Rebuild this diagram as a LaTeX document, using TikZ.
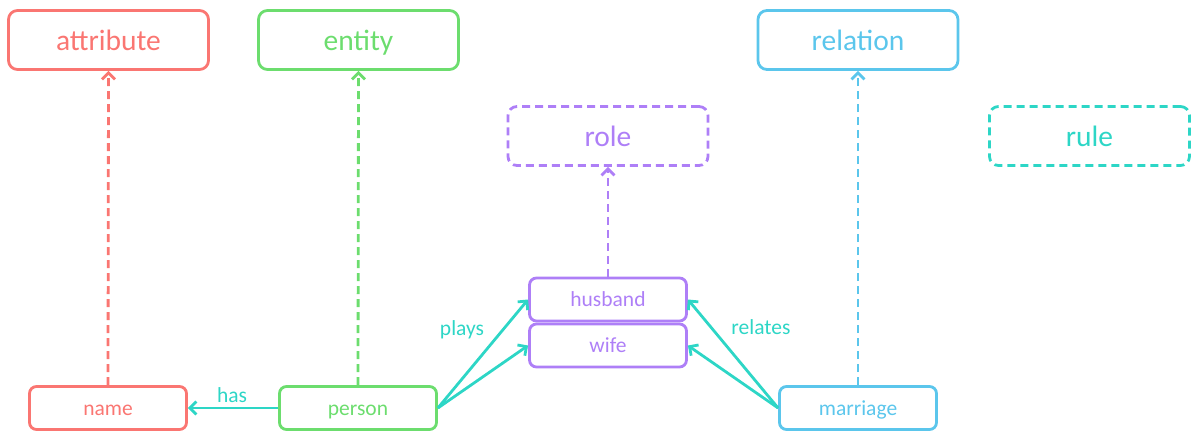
\documentclass[tikz,border=0pt]{standalone}
\usepackage{fontspec}
\setmainfont{Carlito}
\usetikzlibrary{arrows.meta}
\definecolor{cred}{HTML}{FA7672}
\definecolor{cgreen}{HTML}{6CDD6E}
\definecolor{cblue}{HTML}{5BC6EC}
\definecolor{cpurple}{HTML}{AE7FF7}
\definecolor{cteal}{HTML}{2DD6C6}
\tikzset{
  bigbox/.style={draw, line width=2.8pt, rounded corners=9pt, minimum width=200pt, minimum height=59pt, inner sep=0pt, text height=20pt, text depth=0pt, font=\fontsize{29.5}{32}\selectfont},
  smallbox/.style={draw, line width=2.8pt, rounded corners=7pt, minimum width=157pt, minimum height=43pt, inner sep=0pt, text height=14pt, text depth=0pt, font=\fontsize{21.5}{24}\selectfont},
  dashbox/.style={dash pattern=on 8pt off 5pt},
  isa/.style={line width=2.8pt, dash pattern=on 8pt off 5pt, -{Straight Barb[length=6.5pt,width=13pt,line width=2.8pt]}},
  rel/.style={draw=cteal, line width=2.8pt, -{Straight Barb[length=6.5pt,width=13pt,line width=2.8pt]}},
  lbl/.style={text=cteal, font=\fontsize{21.5}{24}\selectfont, inner sep=0pt, text height=14pt, text depth=0pt}
}
\begin{document}
\begin{tikzpicture}[x=1pt,y=-1pt]
\useasboundingbox (0,0) rectangle (1197,442);
\node[bigbox, draw=cred, text=cred] (attribute) at (108.5,40) {attribute};
\node[bigbox, draw=cgreen, text=cgreen] (entity) at (358.5,40) {entity};
\node[bigbox, draw=cblue, text=cblue] (relation) at (858,40) {relation};
\node[bigbox, dashbox, draw=cpurple, text=cpurple] (role) at (608,136) {role};
\node[bigbox, dashbox, draw=cteal, text=cteal] (rule) at (1089.5,136) {rule};
\node[smallbox, draw=cred, text=cred] (name) at (108,408) {name};
\node[smallbox, draw=cgreen, text=cgreen] (person) at (358,408) {person};
\node[smallbox, draw=cpurple, text=cpurple] (husband) at (608,299.5) {husband};
\node[smallbox, draw=cpurple, text=cpurple] (wife) at (608,345.5) {wife};
\node[smallbox, draw=cblue, text=cblue] (marriage) at (858,408) {marriage};
\draw[isa, draw=cred] (name.north) -- (attribute.south);
\draw[isa, draw=cgreen] (person.north) -- (entity.south);
\draw[isa, draw=cpurple] (husband.north) -- (role.south);
\draw[isa, draw=cblue] (marriage.north) -- (relation.south);
\draw[rel] (person.west) -- (name.east);
\draw[rel] (person.east) -- (husband.west);
\draw[rel] (person.east) -- (wife.west);
\draw[rel] (marriage.west) -- (husband.east);
\draw[rel] (marriage.west) -- (wife.east);
\node[lbl] (has) at (232,395) {has};
\node[lbl] (plays) at (462,328) {plays};
\node[lbl] (relates) at (761,327) {relates};
\end{tikzpicture}
\end{document}
